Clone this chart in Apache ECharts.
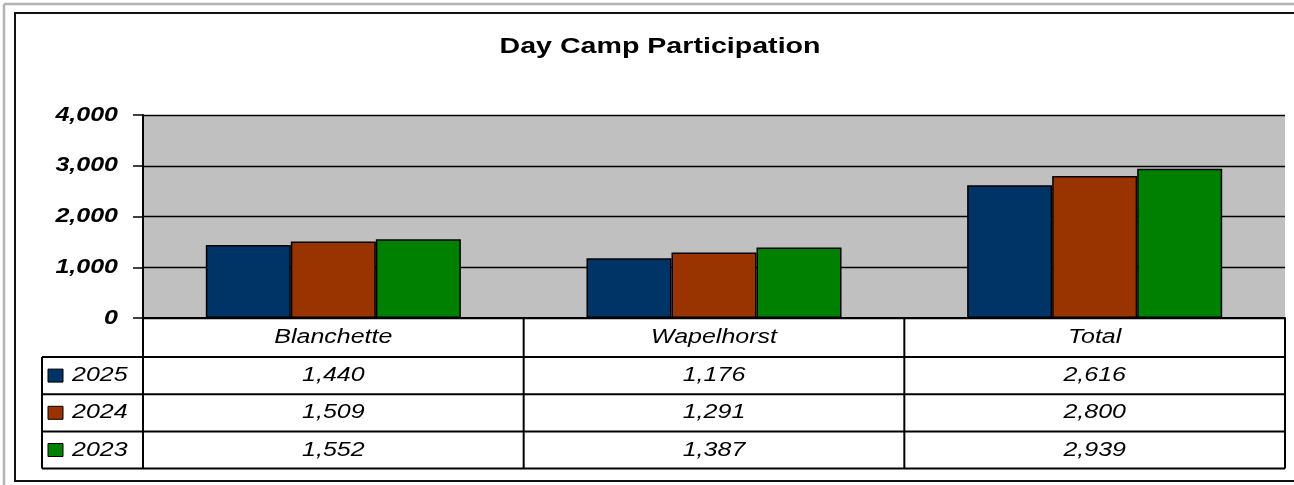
<!DOCTYPE html>
<html>
<head>
<meta charset="utf-8">
<script src="https://cdn.jsdelivr.net/npm/echarts@6/dist/echarts.min.js"></script>
<style>
html,body{margin:0;padding:0;background:#fff;}
#c{width:1294px;height:485px;}
</style>
</head>
<body>
<div id="c"></div>
<script>
const title = 'Day Camp Participation';
const categories = ['Blanchette', 'Wapelhorst', 'Total'];
const seriesNames = ['2025', '2024', '2023'];
const values2025 = [1440, 1176, 2616];
const values2024 = [1509, 1291, 2800];
const values2023 = [1552, 1387, 2939];
const yTicks = [0, 1000, 2000, 3000, 4000];
const colors = ['#003366', '#993300', '#008000'];

const allValues = [values2025, values2024, values2023];
const FONT = '"Liberation Sans", Arial, sans-serif';
const SX = 1.25;

const chart = echarts.init(document.getElementById('c'), null, {renderer: 'canvas'});
const fmt = v => v.toLocaleString('en-US');

chart.setOption({
  animation: false,
  backgroundColor: '#ffffff',
  grid: {left: 143, right: 9, top: 115, bottom: 167, show: true, backgroundColor: '#c0c0c0', borderWidth: 0},
  xAxis: {
    type: 'category', data: categories,
    axisLine: {show: true, lineStyle: {color: '#000', width: 2}},
    axisTick: {show: false},
    axisLabel: {show: false}
  },
  yAxis: {
    type: 'value', min: 0, max: 4000, interval: 1000,
    axisLine: {show: true, lineStyle: {color: '#000', width: 2}},
    axisTick: {show: true, length: 10, lineStyle: {color: '#000', width: 1.5}},
    axisLabel: {show: false},
    splitLine: {show: true, lineStyle: {color: '#000', width: 1.3}}
  },
  series: seriesNames.map((n, i) => ({
    name: n, type: 'bar', data: allValues[i],
    barGap: '0%', barCategoryGap: '33%',
    itemStyle: {color: colors[i], borderColor: '#000', borderWidth: 1.5}
  }))
});

const xc = categories.map(c => chart.convertToPixel({xAxisIndex: 0}, c));
const yp = v => chart.convertToPixel({yAxisIndex: 0}, v);
const cw = xc[1] - xc[0];
const left = xc[0] - cw / 2;
const right = xc[xc.length - 1] + cw / 2;
const y0 = yp(0);
const headerH = 39, rowH = 37.2;
const legendLeft = 42;
const tableBottom = y0 + headerH + rowH * seriesNames.length;

const g = [];
const line = (x1, y1, x2, y2, color, w) => g.push({type: 'line', shape: {x1, y1, x2, y2}, style: {stroke: color || '#000', lineWidth: w || 2}, z: 100});
const text = (t, x, y, font, sx, align) => g.push({type: 'text', x, y, scaleX: sx, z: 101,
  style: {text: t, font, fill: '#000', align: align || 'center', verticalAlign: 'middle'}});

line(4, 4, 1294, 4, '#b4b4b4', 2.5);
line(4, 4, 4, 485, '#b4b4b4', 2.5);
g.push({type: 'rect', shape: {x: 15, y: 13, width: 1300, height: 468}, style: {fill: null, stroke: '#111', lineWidth: 2}, z: 99});

text(title, (left + right) / 2 - 54, 47, 'bold 22px ' + FONT, 1.3);

yTicks.forEach(v => text(fmt(v), 118, yp(v), 'italic bold 20px ' + FONT, SX, 'right'));

line(left, y0, left, tableBottom);
xc.forEach(x => line(x + cw / 2, y0, x + cw / 2, tableBottom));
for (let r = 0; r <= seriesNames.length; r++) {
  const yy = y0 + headerH + rowH * r;
  line(legendLeft, yy, right, yy);
}
line(legendLeft, y0 + headerH, legendLeft, tableBottom);

categories.forEach((c, i) => text(c, xc[i], y0 + headerH / 2, 'italic 20px ' + FONT, SX));

seriesNames.forEach((n, r) => {
  const cy = y0 + headerH + rowH * r + rowH / 2;
  g.push({type: 'rect', shape: {x: 48, y: cy - 6.5, width: 15, height: 13}, style: {fill: colors[r], stroke: '#000', lineWidth: 1}, z: 101});
  text(n, 72, cy, 'italic 20px ' + FONT, SX, 'left');
  allValues[r].forEach((v, i) => text(fmt(v), xc[i], cy, 'italic 20px ' + FONT, SX));
});

chart.setOption({graphic: {elements: g}});
</script>
</body>
</html>
